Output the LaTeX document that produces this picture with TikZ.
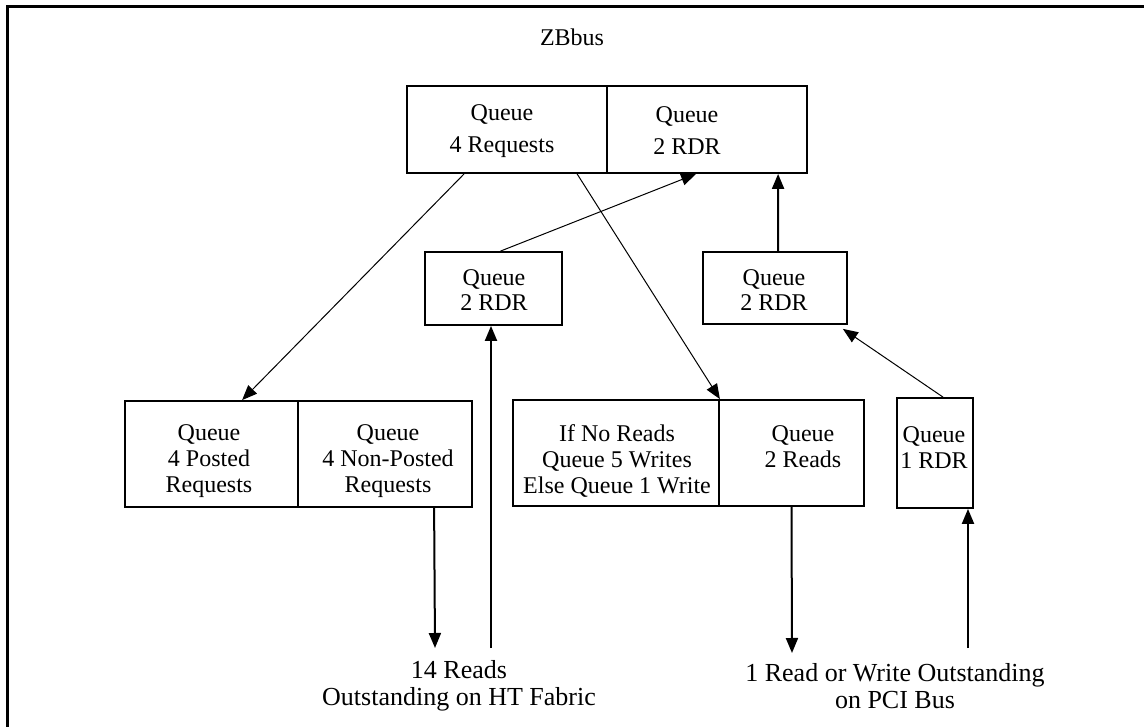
\documentclass[tikz,border=0pt]{standalone}
\usepackage{fontspec}
\setmainfont{Liberation Serif}
\usetikzlibrary{arrows.meta,calc}
\begin{document}
\begin{tikzpicture}[x=1pt,y=-1pt,
  box/.style={draw,line width=1.8pt,inner sep=0pt,minimum width=#1},
  txt/.style={align=center,inner sep=0pt,font=\fontsize{24}{26}\selectfont},
  lbl/.style={align=center,inner sep=0pt,font=\fontsize{26}{27}\selectfont},
  thinarr/.style={line width=1pt,-{Triangle[length=15pt,width=12pt]}},
  thickarr/.style={line width=2pt,-{Triangle[length=15pt,width=12pt]}}
]
\useasboundingbox (0,0) rectangle (1144,727);
\fill[white] (0,0) rectangle (1144,727);
% outer frame (top and left edges visible)
\draw[line width=3pt] (7,727) -- (7,7) -- (1144,7);

\node[txt] (title) at (572,37) {ZBbus};

% boxes
\node[box=200pt,minimum height=87pt] (tl) at (507,129.5) {};
\node[box=200pt,minimum height=87pt] (tr) at (707,129.5) {};
\node[box=137pt,minimum height=73pt] (ml) at (493.5,288.5) {};
\node[box=144pt,minimum height=72pt] (mr) at (775,288) {};
\node[box=173pt,minimum height=106pt] (bla) at (211.5,454) {};
\node[box=174pt,minimum height=106pt] (blb) at (385,454) {};
\node[box=206pt,minimum height=106pt] (bma) at (616,453) {};
\node[box=145pt,minimum height=106pt] (bmb) at (791.5,453) {};
\node[box=76pt,minimum height=110pt] (br) at (935,453) {};

% texts
\node[txt,font=\fontsize{24}{32}\selectfont] (tlt) at (502,131.5) {Queue\\4 Requests};
\node[txt,font=\fontsize{24}{32}\selectfont] (trt) at (687,131) {Queue\\2 RDR};
\node[txt,font=\fontsize{24}{25}\selectfont] (mlt) at (494,290.5) {Queue\\2 RDR};
\node[txt,font=\fontsize{24}{25}\selectfont] (mrt) at (774,290.5) {Queue\\2 RDR};
\node[txt] (blat) at (209,461) {Queue\\4 Posted\\Requests};
\node[txt] (blbt) at (388,461) {Queue\\4 Non-Posted\\Requests};
\node[txt] (bmat) at (617,461) {If No Reads\\Queue 5 Writes\\Else Queue 1 Write};
\node[txt] (bmbt) at (803,447) {Queue\\2 Reads};
\node[txt] (brt) at (934,447.5) {Queue\\1 RDR};

\node[lbl] (htl) at (459,686) {14 Reads\\Outstanding on HT Fabric};
\node[lbl] (pcil) at (895,686) {1 Read or Write Outstanding\\on PCI Bus};

% free ends
\coordinate (htdown) at (435,648);
\coordinate (htup) at (491,648);
\coordinate (pcidown) at (792,653);
\coordinate (pciup) at (968,648);

% connectors
\draw[thinarr] ([xshift=58pt]tl.south west) -- ([xshift=118pt]bla.north west);
\draw[thinarr] ([xshift=171pt]tl.south west) -- (bma.north east);
\draw[thinarr] ([xshift=7pt]ml.north) -- ([xshift=90pt]tr.south west);
\draw[thickarr] ([xshift=3pt]mr.north) -- ([xshift=172pt]tr.south west);
\draw[thinarr] ([xshift=8pt]br.north) -- ([xshift=-5pt,yshift=-4pt]mr.south east);
\draw[thickarr] ([xshift=137pt]blb.south west) -- (htdown);
\draw[thickarr] (htup) -- (htup |- ml.south);
\draw[thickarr] (bmb.south) -- (pcidown);
\draw[thickarr] (pciup) -- (pciup |- br.south);
\end{tikzpicture}
\end{document}
